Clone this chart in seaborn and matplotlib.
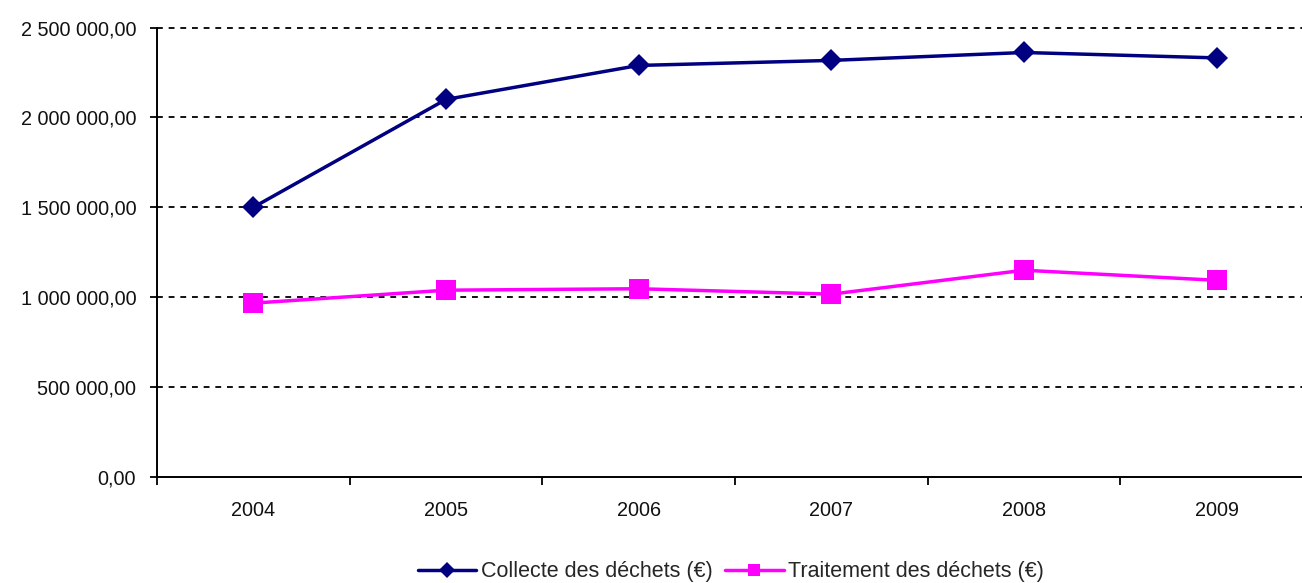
import matplotlib
matplotlib.use("Agg")
import matplotlib.pyplot as plt
import seaborn as sns
import pandas as pd
import numpy as np
from matplotlib.ticker import FuncFormatter, FixedLocator

years = ["2004", "2005", "2006", "2007", "2008", "2009"]
collecte = [1500000, 2100000, 2289000, 2317000, 2361000, 2331000]
traitement = [967000, 1039000, 1047000, 1017000, 1150000, 1094000]
series_names = ["Collecte des déchets (€)", "Traitement des déchets (€)"]
y_ticks = [0, 500000, 1000000, 1500000, 2000000, 2500000]

sns.set_style("white")
plt.rcParams['font.family'] = ['Liberation Sans', 'DejaVu Sans']
FS = 14.3

df = pd.DataFrame({
    "pos": list(range(len(years))) * 2,
    "value": collecte + traitement,
    "serie": [series_names[0]] * len(years) + [series_names[1]] * len(years),
})

fig = plt.figure(figsize=(13.02, 5.83), dpi=100)
ax = fig.add_axes([157 / 1302, 106 / 583, 1156 / 1302, 449.5 / 583])

sns.lineplot(data=df, x="pos", y="value", hue="serie", style="serie",
             palette=["#000080", "#FF00FF"], markers=["D", "s"], dashes=False,
             linewidth=2.5, markersize=11, markeredgewidth=0, ax=ax, zorder=3)
ax.lines[1].set_markersize(14.5)

ax.set_xlim(-0.5, 5.5)
ax.set_ylim(0, 2500000)
ax.yaxis.set_major_locator(FixedLocator(y_ticks))

def fmt(v, p):
    return f"{v:,.2f}".replace(",", " ").replace(".", ",")
ax.yaxis.set_major_formatter(FuncFormatter(fmt))

ax.set_xticks(np.arange(-0.5, 6, 1.0))
ax.set_xticklabels([])
ax.set_xticks(range(len(years)), minor=True)
ax.set_xticklabels(years, minor=True)
ax.tick_params(axis="x", which="major", bottom=True, direction="out", length=6, width=1.3, color="black")
ax.tick_params(axis="x", which="minor", bottom=True, length=0, pad=17, labelsize=FS, labelcolor="#111111")
ax.tick_params(axis="y", left=True, direction="out", length=5, width=1.3, color="black",
               labelsize=FS, labelcolor="#111111", pad=10)

for v in y_ticks[1:]:
    ax.axhline(v, color="#111111", linestyle=(0, (3, 3)), linewidth=1.4, zorder=1, clip_on=False)

for s in ["top", "right"]:
    ax.spines[s].set_visible(False)
for s in ["left", "bottom"]:
    ax.spines[s].set_color("black")
    ax.spines[s].set_linewidth(1.4)

ax.set_xlabel("")
ax.set_ylabel("")

handles, labels = ax.get_legend_handles_labels()
ax.legend_.remove()
leg = fig.legend(handles, labels, loc="center", bbox_to_anchor=(731 / 1302, 1 - 572 / 583),
                 ncol=2, frameon=False, fontsize=15.5, handlelength=2.7, handletextpad=0.2,
                 columnspacing=0.6, borderaxespad=0, borderpad=0)
for h, ms in zip(leg.legend_handles, [8, 8.5]):
    h.set_markersize(ms)

fig.savefig("out.png", dpi=100)
